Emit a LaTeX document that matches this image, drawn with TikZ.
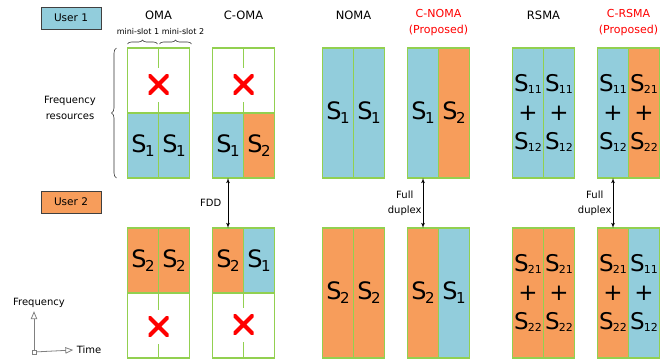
\documentclass[tikz,border=0pt]{standalone}
\usepackage{fontspec}
\setmainfont{DejaVu Sans}
\usepackage{xcolor}
\usepackage{tikz}
\usetikzlibrary{arrows, positioning, decorations.pathreplacing}
\definecolor{ublue}{HTML}{92CDDC}
\definecolor{uorange}{HTML}{F79D5B}
\definecolor{fgreen}{HTML}{92D050}
\tikzstyle{cell} = [draw=fgreen, line width=1.5pt, rectangle, minimum width=31pt, inner sep=0pt, outer sep=0pt, font=\fontsize{24}{28}\selectfont]
\tikzstyle{half} = [cell, minimum height=65pt]
\tikzstyle{full} = [cell, minimum height=130pt]
\tikzstyle{stack} = [full, align=center, font=\fontsize{23}{29}\selectfont]
\tikzstyle{empty} = [cell, fill=white, minimum width=62pt, minimum height=65pt]
\tikzstyle{frame} = [draw=fgreen, line width=1.5pt]
\tikzstyle{xmark} = [minimum size=20pt, inner sep=0pt, path picture={\draw[red, line width=4pt] (path picture bounding box.north west) -- (path picture bounding box.south east) (path picture bounding box.north east) -- (path picture bounding box.south west);}]
\tikzstyle{user} = [draw=black!75, line width=0.8pt, minimum width=60pt, minimum height=22pt, font=\fontsize{10.5}{12}\selectfont]
\tikzstyle{title} = [align=center, font=\fontsize{11.5}{16}\selectfont]
\tikzstyle{brace} = [decorate, decoration={brace, amplitude=4pt}, draw=black!80, line width=0.6pt]
\tikzstyle{axis} = [-open triangle 45, draw=gray, line width=0.8pt]
\newcommand{\Sone}[1]{S\kern-1.5pt\raisebox{-4pt}{\fontsize{15}{15}\selectfont #1}}
\newcommand{\Stwo}[1]{S\kern-1pt\raisebox{-2.5pt}{\fontsize{11}{11}\selectfont #1}}
\newcommand{\Ssum}[2]{\Stwo{#1}\\+\\\Stwo{#2}}

\begin{document}
\begin{tikzpicture}[x=1pt, y=-1pt, >=latex', font=\fontsize{10}{12}\selectfont]
    \useasboundingbox (0,0) rectangle (661,360);

    % 图例
    \node [user, fill=ublue] (user1) at (71,18) {User 1};
    \node [user, fill=uorange] (user2) at (71,202) {User 2};

    % 上行：User 1
    \node [half, fill=ublue] (omaA) at (143,145.5) {\Sone1};
    \node [half, fill=ublue, right=0pt of omaA] (omaB) {\Sone1};
    \node [empty, above=0pt of omaA.north east] (omaW) {};
    \node [xmark] (omaX) at ([yshift=-4pt]omaW.center) {};
    \node [half, fill=ublue] (comaA) at (228,145.5) {\Sone1};
    \node [half, fill=uorange, right=0pt of comaA] (comaB) {\Sone2};
    \node [empty, above=0pt of comaA.north east] (comaW) {};
    \node [xmark] (comaX) at ([yshift=-4pt]comaW.center) {};
    \node [full, fill=ublue] (nomaA) at (338,113) {\Sone1};
    \node [full, fill=ublue, right=0pt of nomaA] (nomaB) {\Sone1};
    \node [full, fill=ublue] (cnomaA) at (423,113) {\Sone1};
    \node [full, fill=uorange, right=0pt of cnomaA] (cnomaB) {\Sone2};
    \node [stack, fill=ublue] (rsmaA) at (528,113) {\Ssum{11}{12}};
    \node [stack, fill=ublue, right=0pt of rsmaA] (rsmaB) {\Ssum{11}{12}};
    \node [stack, fill=ublue] (crsmaA) at (613,113) {\Ssum{11}{12}};
    \node [stack, fill=uorange, right=0pt of crsmaA] (crsmaB) {\Ssum{21}{22}};

    % 下行：User 2
    \node [half, fill=uorange] (omaC) at (143,260.5) {\Sone2};
    \node [half, fill=uorange, right=0pt of omaC] (omaD) {\Sone2};
    \node [empty, below=0pt of omaC.south east] (omaV) {};
    \node [xmark] (omaY) at ([yshift=-1pt]omaV.center) {};
    \node [half, fill=uorange] (comaC) at (228,260.5) {\Sone2};
    \node [half, fill=ublue, right=0pt of comaC] (comaD) {\Sone1};
    \node [empty, below=0pt of comaC.south east] (comaV) {};
    \node [xmark] (comaY) at ([yshift=1pt]comaV.center) {};
    \node [full, fill=uorange] (nomaC) at (338,293) {\Sone2};
    \node [full, fill=uorange, right=0pt of nomaC] (nomaD) {\Sone2};
    \node [full, fill=uorange] (cnomaC) at (423,293) {\Sone2};
    \node [full, fill=ublue, right=0pt of cnomaC] (cnomaD) {\Sone1};
    \node [stack, fill=uorange] (rsmaC) at (528,293) {\Ssum{21}{22}};
    \node [stack, fill=uorange, right=0pt of rsmaC] (rsmaD) {\Ssum{21}{22}};
    \node [stack, fill=uorange] (crsmaC) at (613,293) {\Ssum{21}{22}};
    \node [stack, fill=ublue, right=0pt of crsmaC] (crsmaD) {\Ssum{11}{12}};

    % 空白区的分隔线
    \draw [frame] (omaW.north) -- ([yshift=17pt]omaX.center) (omaW.south) -- ([yshift=-17pt]omaX.center);
    \draw [frame] (comaW.north) -- ([yshift=17pt]comaX.center) (comaW.south) -- ([yshift=-17pt]comaX.center);
    \draw [frame] (omaV.north) -- ([yshift=17pt]omaY.center) (omaV.south) -- ([yshift=-17pt]omaY.center);
    \draw [frame] (comaV.north) -- ([yshift=17pt]comaY.center) (comaV.south) -- ([yshift=-17pt]comaY.center);

    % 标题
    \node [title] (tOMA) at (omaW.north |- 0,15) {OMA};
    \node [title] (tCOMA) at (comaW.north |- 0,15) {C-OMA};
    \node [title] (tNOMA) at (nomaA.north east |- 0,15) {NOMA};
    \node [title, text=red, font=\fontsize{11}{16}\selectfont] (tCNOMA) at (cnomaA.north east |- 0,23) {C-NOMA\\(Proposed)};
    \node [title] (tRSMA) at (rsmaA.north east |- 0,15) {RSMA};
    \node [title, text=red, font=\fontsize{11}{16}\selectfont] (tCRSMA) at (crsmaA.north east |- 0,23) {C-RSMA\\(Proposed)};

    % mini-slot 与频率资源
    \draw [brace] ([yshift=4pt]omaW.north west) -- ([xshift=-1pt, yshift=4pt]omaW.north);
    \draw [brace] ([xshift=1pt, yshift=4pt]omaW.north) -- ([xshift=2pt, yshift=4pt]omaW.north east);
    \node [font=\fontsize{8}{10}\selectfont] (slot1) at (138,32) {mini-slot 1};
    \node [font=\fontsize{8}{10}\selectfont] (slot2) at (183,32) {mini-slot 2};
    \draw [brace, decoration={amplitude=5pt}] ([xshift=-11pt]omaA.south west) -- ([xshift=-11pt]omaW.north west);
    \node [align=center, font=\fontsize{10}{16}\selectfont] (res) at (70,108) {Frequency\\resources};

    % 双工箭头
    \draw [<->, line width=0.8pt] (comaA.south) -- node [left=3pt] {FDD} (comaC.north);
    \draw [<->, line width=0.8pt] (cnomaA.south) -- node [left, inner sep=1pt, align=center, font=\fontsize{10}{15}\selectfont] {Full\\duplex} (cnomaC.north);
    \draw [<->, line width=0.8pt] (crsmaA.south) -- node [left, inner sep=1pt, align=center, font=\fontsize{10}{15}\selectfont] {Full\\duplex} (crsmaC.north);

    % 坐标轴
    \node [draw=gray, minimum size=4pt, inner sep=0pt] (orig) at (34,352) {};
    \node (freqAx) at (39,303) {Frequency};
    \node (timeAx) at (89,350) {Time};
    \draw [axis] (orig) -- (orig |- freqAx.south);
    \draw [axis] (orig) -- (timeAx.west);
\end{tikzpicture}
\end{document}
